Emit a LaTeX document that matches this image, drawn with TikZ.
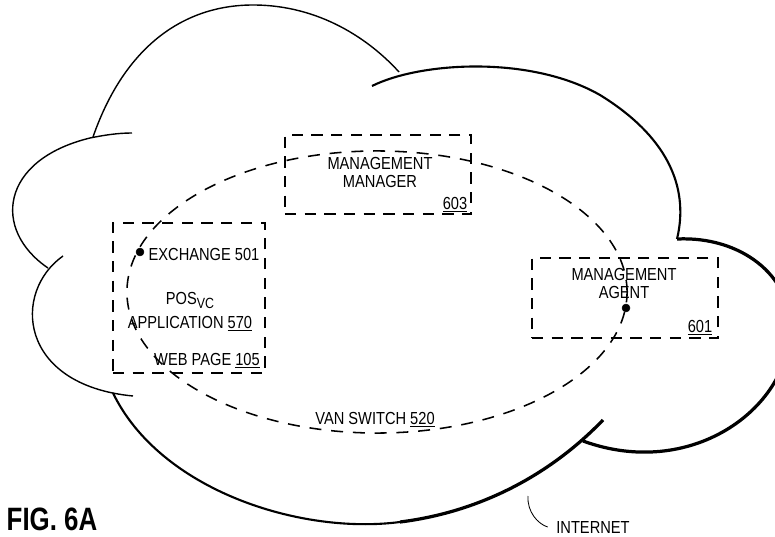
\documentclass[tikz,border=0pt]{standalone}
\usepackage{fontspec}
\setmainfont{Liberation Sans}[FakeStretch=0.84]
\newfontfamily\figfont{Liberation Sans}[FakeStretch=0.8]
\tikzset{
  lbl/.style={inner sep=0pt, align=center, font=\fontsize{12.4}{12.8}\selectfont},
  capline/.style={text height=8.9pt, text depth=0pt},
  dashbox/.style={draw=black, line width=1.2pt, dash pattern=on 8pt off 6pt, inner sep=0pt},
  vanring/.style={draw=black, line width=1.1pt, dash pattern=on 8.5pt off 7pt},
  cloudthin/.style={draw=black, line width=1pt},
  cloudmid/.style={draw=black, line width=1.5pt},
  cloudthick/.style={draw=black, line width=2.3pt},
  leader/.style={draw=black, line width=0.6pt}
}
\begin{document}
\begin{tikzpicture}[x=0.025cm, y=-0.025cm]
                \useasboundingbox (0,0) rectangle (775,537);
                %%%  Cloud, lobe by lobe (tails left where lobes meet)
                \draw[cloudthin] (93,137) .. controls (125,45) and (185,5) .. (253,5) .. controls (320,5) and (370,40) .. (399,72);
                \draw[cloudmid] (372,86) .. controls (420,62) and (530,55) .. (600,95) .. controls (665,135) and (690,185) .. (677,239);
                \draw[cloudthick] (677,239) .. controls (740,236) and (792,275) .. (790,330) .. controls (788,410) and (690,480) .. (583,441);
                \draw[cloudmid] (113,393) .. controls (160,490) and (300,535) .. (400,522);
                \draw[cloudthick] (400,522) .. controls (480,512) and (550,475) .. (603,420);
                \draw[cloudthin] (63,256) .. controls (12,292) and (18,385) .. (133,396);
                \draw[cloudthin] (48,268) .. controls (-8,230) and (0,160) .. (90,138) .. controls (105,135) and (118,133) .. (132,133);
                %%% VAN switch ring
                \draw[vanring] (377,292) ellipse [x radius=6.25cm, y radius=3.525cm];
                %%% Dashed boxes
                \node[dashbox, minimum width=3.8cm, minimum height=3.75cm] (posbox) at (189,298) {};
                \node[dashbox, minimum width=4.65cm, minimum height=1.975cm] (mgrbox) at (378,174.5) {};
                \node[dashbox, minimum width=4.65cm, minimum height=2cm] (agtbox) at (625,298) {};
                %%% Points on the ring
                \path [draw=black, fill=black] (140,252) circle [radius=2.8pt];
                \path [draw=black, fill=black] (626,308) circle [radius=2.8pt];
                %%% Labels
                \node[lbl] (mgrname) at (380,172) {MANAGEMENT\\MANAGER};
                \node[lbl, capline] (mgrnum) at (455,203) {\underline{603}};
                \node[lbl, capline] (exchange) at (204,254) {EXCHANGE 501};
                \node[lbl, capline] (posvc) at (190,298) {POS\raisebox{-0.45ex}{\fontsize{10.5}{11}\selectfont VC}};
                \node[lbl, capline] (posapp) at (190,322) {APPLICATION \underline{570}};
                \node[lbl, capline] (webpage) at (207,359) {WEB PAGE \underline{105}};
                \node[lbl] (agtname) at (624,283) {MANAGEMENT\\AGENT};
                \node[lbl, capline] (agtnum) at (700,326) {\underline{601}};
                \node[lbl, capline] (vanname) at (375,418) {VAN SWITCH \underline{520}};
                \node[lbl, capline, inner xsep=6pt] (internet) at (593,527) {INTERNET};
                \coordinate (nettip) at (528,496);
                \draw[leader] (internet.west) .. controls (538,524) and (527,512) .. (nettip);
                \node[capline, inner sep=0pt, text height=17pt, font=\figfont\bfseries\fontsize{23}{26}\selectfont] (figlabel) at (52,519) {FIG. 6A};
\end{tikzpicture}
\end{document}
